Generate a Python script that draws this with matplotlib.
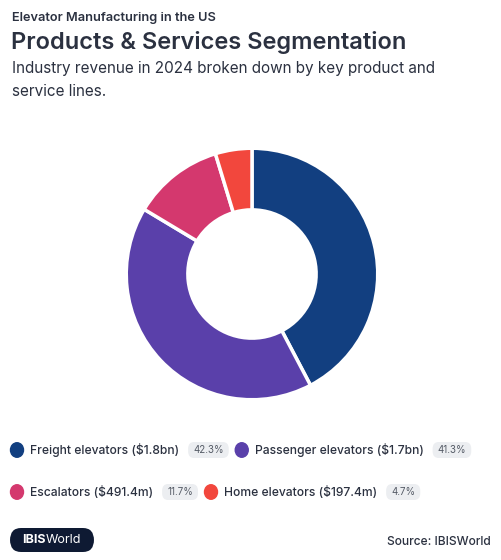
import matplotlib.pyplot as plt
from matplotlib.patches import FancyBboxPatch

plt.rcParams['font.family'] = ['Inter', 'DejaVu Sans']

labels = ['Freight elevators ($1.8bn)', 'Passenger elevators ($1.7bn)',
          'Escalators ($491.4m)', 'Home elevators ($197.4m)']
shares = [42.3, 41.3, 11.7, 4.7]
colors = ['#123f80', '#5a40aa', '#d4386e', '#f2473d']

W, H = 502, 560
fig = plt.figure(figsize=(W / 100, H / 100), dpi=100)
fig.patch.set_facecolor('white')

def fx(x):
    return x / W

def fy(y):
    return 1 - y / H

TXT = '#2b3140'

# header
fig.text(fx(12), fy(18), 'Elevator Manufacturing in the US', fontsize=9.2,
         fontweight='semibold', color=TXT, va='center')
fig.text(fx(11), fy(43), 'Products & Services Segmentation', fontsize=17,
         fontweight='semibold', color=TXT, va='center')
fig.text(fx(12), fy(68), 'Industry revenue in 2024 broken down by key product and',
         fontsize=11, color=TXT, va='center')
fig.text(fx(12), fy(92), 'service lines.', fontsize=11, color=TXT, va='center')

# donut
cx, cy, r = 252, 274, 127
ax = fig.add_axes([fx(cx - r), fy(cy + r), 2 * r / W, 2 * r / H])
ax.pie(shares, colors=colors, startangle=90, counterclock=False,
       wedgeprops=dict(width=0.49, edgecolor='white', linewidth=2.5))
ax.set_xlim(-1.01, 1.01)
ax.set_ylim(-1.01, 1.01)
ax.set_aspect('equal')
ax.axis('off')

# legend with percentage badges
fig.canvas.draw()
rend = fig.canvas.get_renderer()
rows = [(0, 450), (1, 450), (2, 492), (3, 492)]
x = 17
for i, (k, yy) in enumerate(rows):
    if i == 2:
        x = 17
    fig.patches.append(plt.Circle((fx(x), fy(yy)), 6.5 / W, color=colors[k],
                                  transform=fig.transFigure, figure=fig))
    t = fig.text(fx(x + 13), fy(yy), labels[k], fontsize=8.7, fontweight='medium',
                 color=TXT, va='center')
    bb = t.get_window_extent(rend)
    bx = bb.x1 + 9
    pt = fig.text(fx(bx + 5), fy(yy), f'{shares[k]}%', fontsize=7, color='#555b66',
                  va='center')
    pb = pt.get_window_extent(rend)
    bw = pb.width + 10
    fig.patches.append(FancyBboxPatch((fx(bx), fy(yy + 8)), bw / W, 16 / H,
                                      boxstyle='round,pad=0,rounding_size=0.012',
                                      facecolor='#eceef1', edgecolor='none',
                                      transform=fig.transFigure, figure=fig, zorder=0))
    x = bx + bw + 13

# footer
fig.patches.append(FancyBboxPatch((fx(10), fy(552)), 84 / W, 24 / H,
                                  boxstyle='round,pad=0,rounding_size=0.022',
                                  facecolor='#0e1a33', edgecolor='none',
                                  transform=fig.transFigure, figure=fig))
lt = fig.text(fx(22), fy(540), 'IBIS', fontsize=9, fontweight='bold', color='white',
              va='center')
lb = lt.get_window_extent(rend)
fig.text(fx(lb.x1 + 0.5), fy(540), 'World', fontsize=9, color='white', va='center')
fig.text(fx(491), fy(542), 'Source: IBISWorld', fontsize=8.6, fontweight='medium',
         color=TXT, va='center', ha='right')

fig.savefig('out.png', dpi=100)
